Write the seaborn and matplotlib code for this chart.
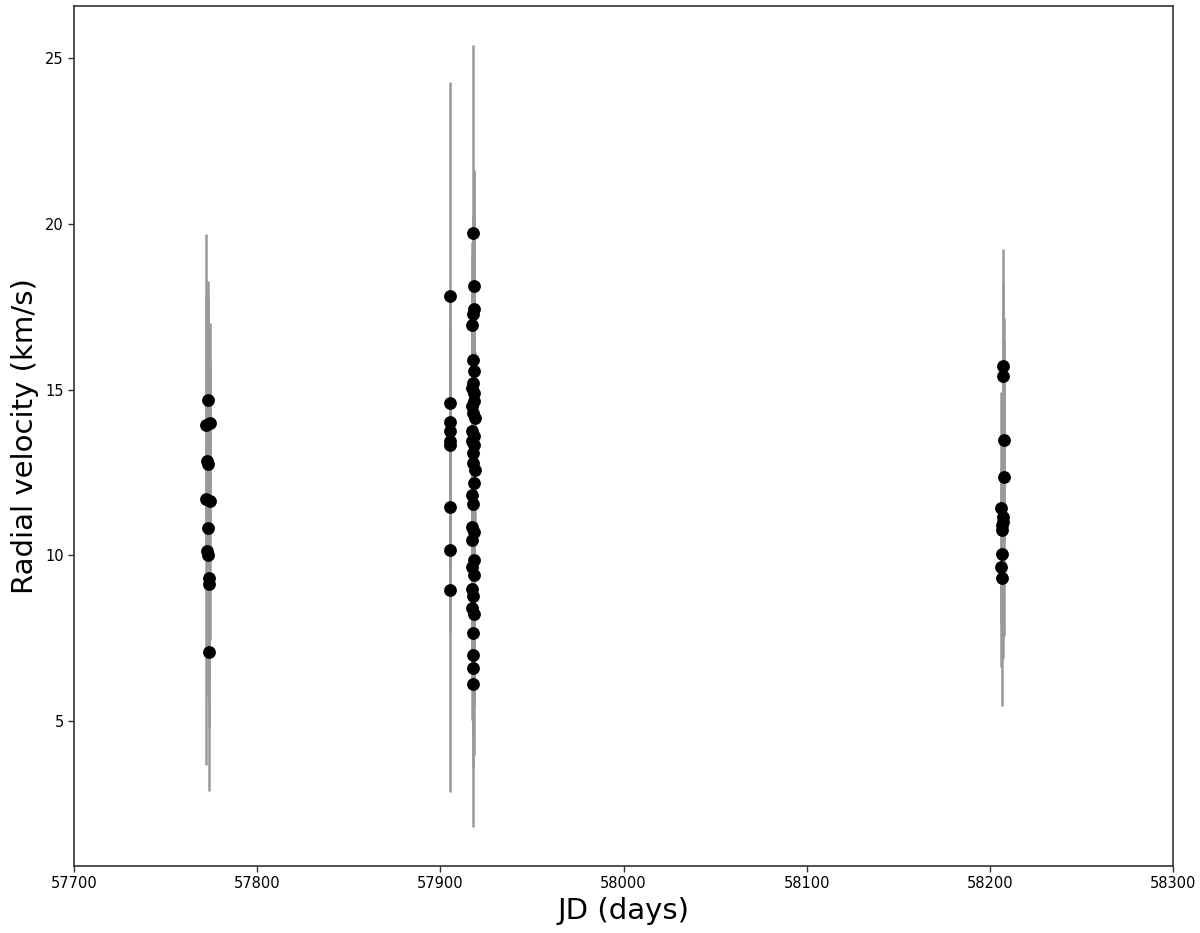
import numpy as np
import pandas as pd
import matplotlib
matplotlib.use("Agg")
import matplotlib.pyplot as plt
import seaborn as sns

# ---- data ----
jd_1 = [57773.0, 57771.8, 57774.2, 57772.6, 57773.4, 57771.8, 57774.2, 57773.0, 57772.6, 57773.4, 57773.8, 57773.5, 57773.6]
rv_1 = [14.68, 13.93, 14.00, 12.85, 12.75, 11.70, 11.65, 10.82, 10.12, 10.00, 9.32, 9.15, 7.09]
err_1 = [3.6, 3.9, 3.0, 3.5, 5.0, 8.0, 4.2, 5.1, 2.5, 3.3, 4.5, 3.0, 4.2]

jd_2 = [57905, 57905, 57905, 57905, 57905, 57905, 57905, 57905, 57905]
rv_2 = [17.83, 14.60, 14.02, 13.74, 13.45, 13.33, 11.46, 10.17, 8.96]
err_2 = [6.44, 3.0, 2.5, 4.0, 3.5, 2.0, 3.0, 2.5, 6.08]

jd_3 = [57918.0, 57918.2, 57918.1, 57918.0, 57917.2, 57918.0, 57918.3, 57917.9, 57917.3, 57918.1,
        57918.2, 57917.4, 57918.0, 57918.8, 57917.3, 57918.1, 57917.5, 57918.2, 57917.9, 57918.0,
        57918.7, 57918.1, 57917.4, 57918.0, 57917.5, 57918.3, 57917.4, 57918.1, 57917.5, 57918.2,
        57917.5, 57918.0, 57917.4, 57918.2, 57918.0, 57918.0, 57918.0, 57918.0]
rv_3 = [19.73, 18.11, 17.44, 17.27, 16.95, 15.90, 15.57, 15.20, 15.05, 14.90,
        14.65, 14.50, 14.30, 14.14, 13.74, 13.60, 13.45, 13.33, 13.08, 12.78,
        12.58, 12.17, 11.82, 11.56, 10.86, 10.70, 10.46, 9.85, 9.65, 9.40,
        8.99, 8.79, 8.43, 8.23, 7.65, 6.99, 6.60, 6.13]
err_3 = [5.65, 3.5, 4.12, 3.0, 2.5, 3.8, 2.2, 3.0, 4.0, 2.0,
         3.6, 2.5, 3.2, 2.0, 4.5, 3.0, 2.4, 3.5, 2.8, 3.0,
         2.0, 3.6, 4.0, 2.5, 3.0, 4.3, 2.0, 3.5, 2.4, 4.0,
         3.0, 2.0, 3.4, 4.24, 3.0, 2.5, 3.0, 4.31]

jd_4 = [58207.0, 58207.2, 58207.8, 58207.8, 58206.3, 58207.0, 58207.4, 58206.6, 58206.4, 58206.5, 58206.3, 58206.4]
rv_4 = [15.71, 15.40, 13.48, 12.37, 11.43, 11.16, 11.00, 10.91, 10.78, 10.05, 9.65, 9.32]
err_4 = [2.5, 3.84, 3.0, 4.8, 3.5, 4.26, 2.5, 3.0, 2.2, 4.58, 3.0, 2.5]

x_ticks = [57700, 57800, 57900, 58000, 58100, 58200, 58300]
y_ticks = [5, 10, 15, 20, 25]

df = pd.DataFrame({
    "jd": jd_1 + jd_2 + jd_3 + jd_4,
    "rv": rv_1 + rv_2 + rv_3 + rv_4,
    "err": err_1 + err_2 + err_3 + err_4,
})

sns.set_theme(style="ticks")
plt.rcParams['font.family'] = ['DejaVu Sans']
plt.rcParams['text.color'] = 'black'
plt.rcParams['axes.labelcolor'] = 'black'
plt.rcParams['xtick.color'] = 'black'
plt.rcParams['ytick.color'] = 'black'

fig = plt.figure(figsize=(12, 9.33), dpi=100)
ax = fig.add_axes([0.0617, 0.0718, 0.9158, 0.9218])

ax.errorbar(df["jd"], df["rv"], yerr=df["err"], fmt="none",
            ecolor="#999999", elinewidth=1.8, capsize=0, zorder=1)
sns.scatterplot(data=df, x="jd", y="rv", ax=ax, color="black",
                s=85, edgecolor="black", linewidth=0, zorder=2, legend=False)

ax.set_xlim(57700, 58300)
ax.set_xticks(x_ticks)
ax.set_xticklabels([str(t) for t in x_ticks])
ax.set_yticks(y_ticks)
ax.tick_params(axis="both", labelsize=10.5, length=4, width=1, color="#333333", labelcolor="black")
for sp in ax.spines.values():
    sp.set_visible(True)
    sp.set_color("#333333")
    sp.set_linewidth(1.2)

ax.set_xlabel("JD (days)", fontsize=21, color="black")
ax.set_ylabel("Radial velocity (km/s)", fontsize=21, color="black")

fig.savefig("out.png", dpi=100)
